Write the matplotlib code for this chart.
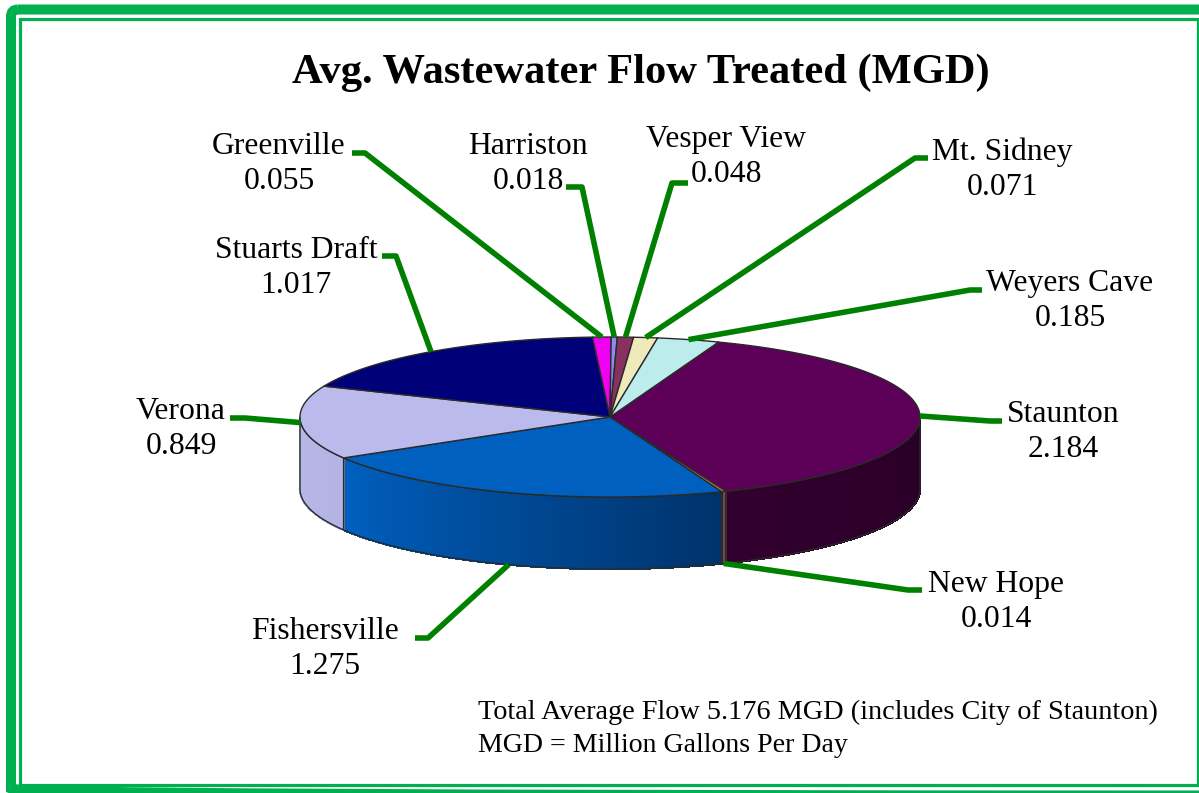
import numpy as np
import matplotlib
matplotlib.use("Agg")
import matplotlib.pyplot as plt
from matplotlib.colors import to_rgb
from matplotlib.patches import FancyBboxPatch, Rectangle

names = ["Staunton", "New Hope", "Fishersville", "Verona", "Stuarts Draft",
         "Greenville", "Harriston", "Vesper View", "Mt. Sidney", "Weyers Cave"]
flows = [2.184, 0.014, 1.275, 0.849, 1.017, 0.055, 0.018, 0.048, 0.071, 0.185]

top_colors = ["#5c0058", "#c87060", "#0060c0", "#babaec", "#000078",
              "#f000f0", "#8c8cee", "#883060", "#eeeabc", "#bcecec"]
# colour of the wall at its left end and right end
side_left = ["#32002e", "#a05848", "#0060c0", "#b8b8e8", "#000078",
             "#f000f0", "#8c8cee", "#883060", "#eeeabc", "#bcecec"]
side_right = ["#280026", "#7c4438", "#00336c", "#b4b4e4", "#000078",
              "#f000f0", "#8c8cee", "#883060", "#eeeabc", "#bcecec"]

# label centre (x, y of the block) and the bend of each leader, in pixels
label_pos = [(1063, 432), (996, 602), (325, 649), (181, 429), (296, 268),
             (279, 164), (528, 164), (726, 157), (1002, 170), (1070, 301)]
bends = [[(990, 421), (1002, 421)], [(908, 590), (922, 590)], [(428, 638), (415, 638)],
         [(245, 418), (230, 418)], [(396, 256), (382, 256)], [(365, 153), (352, 153)],
         [(582, 187), (566, 187)], [(672, 183), (688, 183)], [(915, 158), (928, 158)],
         [(970, 290), (982, 290)]]

cx, cy = 610, 417
rx, ry = 310, 80
depth = 72
start = 69.5
edge = "#2a2a2a"
green = "#008000"
frame = "#00b050"

plt.rcParams["font.family"] = ["Liberation Serif", "DejaVu Serif"]

fig = plt.figure(figsize=(11.99, 7.93), dpi=100)
ax = fig.add_axes([0, 0, 1, 1])
ax.set_xlim(0, 1199)
ax.set_ylim(793, 0)
ax.axis("off")


def rim(deg):
    t = np.radians(deg)
    return cx + rx * np.cos(t), cy - ry * np.sin(t)


flows_arr = np.array(flows)
sweeps = flows_arr / flows_arr.sum() * 360
ends = start - np.cumsum(sweeps)
starts = ends + sweeps

# walls, only the part of the rim that faces the viewer
for i in range(len(flows)):
    a = starts[i] % 360
    b = a - sweeps[i]
    if a <= 180:
        a += 360
        b += 360
    hi = min(a, 360)
    lo = max(b, 180)
    if hi <= lo:
        continue
    angs = np.linspace(lo, hi, 60)
    c0 = np.array(to_rgb(side_left[i]))
    c1 = np.array(to_rgb(side_right[i]))
    for j in range(len(angs) - 1):
        x0, y0 = rim(angs[j])
        x1, y1 = rim(angs[j + 1])
        col = c0 + (c1 - c0) * j / (len(angs) - 2)
        ax.fill([x0, x1, x1, x0], [y0, y1, y1 + depth, y0 + depth],
                fc=col, ec=col, lw=1, antialiased=False, zorder=2)
    xs, ys = rim(angs)
    ax.fill(np.r_[xs, xs[::-1]], np.r_[ys, ys[::-1] + depth],
            fc="none", ec=edge, lw=1, zorder=3)

# top faces
for i in range(len(flows)):
    angs = np.linspace(starts[i], ends[i], 120)
    xs, ys = rim(angs)
    ax.fill(np.r_[cx, xs], np.r_[cy, ys], fc=top_colors[i], ec=edge, lw=1,
            joinstyle="round", zorder=4)

# leaders and labels
for i, name in enumerate(names):
    mid = (starts[i] + ends[i]) / 2
    x0, y0 = rim(mid)
    if np.sin(np.radians(mid)) < -0.5:
        y0 += depth
    px = [x0] + [p[0] for p in bends[i]]
    py = [y0] + [p[1] for p in bends[i]]
    ax.plot(px, py, color=green, lw=4.0, solid_joinstyle="round",
            solid_capstyle="butt", zorder=5)
    ax.text(label_pos[i][0], label_pos[i][1], f"{name}\n{flows[i]:.3f}",
            ha="center", va="center", fontsize=22.8, linespacing=1.27,
            color="black", zorder=6)

ax.text(641, 73, "Avg. Wastewater Flow Treated (MGD)", ha="center", va="center",
        fontsize=30.6, fontweight="bold", color="black")
ax.text(478, 712, "Total Average Flow 5.176 MGD (includes City of Staunton)",
        ha="left", va="center", fontsize=20.3, color="black")
ax.text(478, 746, "MGD = Million Gallons Per Day", ha="left", va="center",
        fontsize=20.1, color="black")

# double green frame, it runs off the right and bottom edge
ax.add_patch(FancyBboxPatch((11, 9.5), 1210, 786, boxstyle="round,pad=0,rounding_size=7",
                            fc="none", ec=frame, lw=7.2, zorder=8))
ax.add_patch(Rectangle((19.5, 19), 1178, 765.5, fc="none", ec=frame, lw=2.3, zorder=8))

fig.savefig("out.png", dpi=100)
